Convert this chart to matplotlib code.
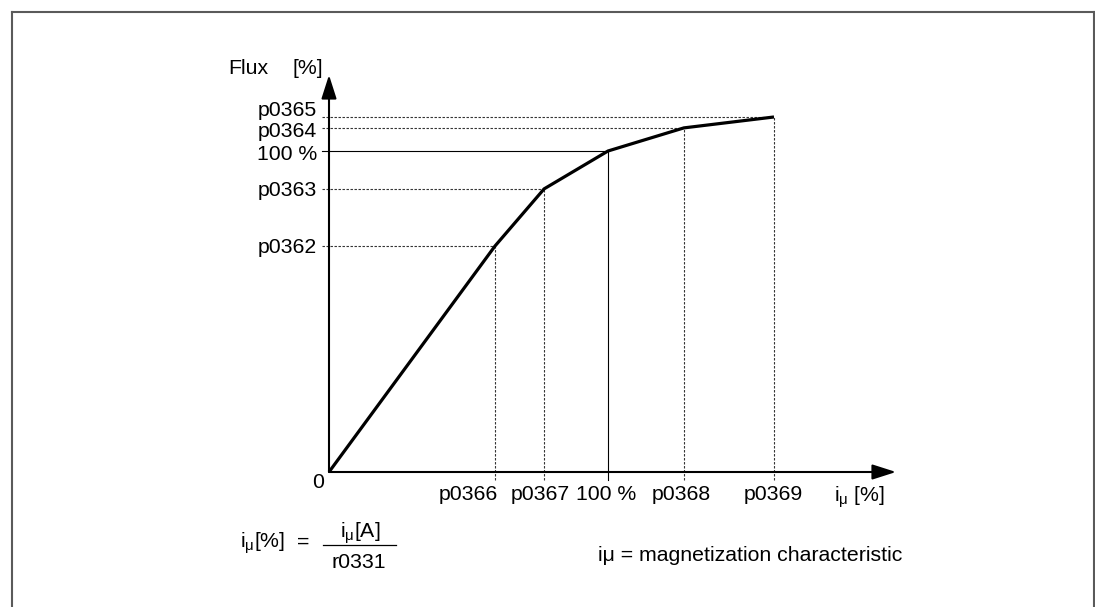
import matplotlib
matplotlib.use("Agg")
import matplotlib.pyplot as plt
from matplotlib.lines import Line2D

plt.rcParams['font.family'] = ['Liberation Sans', 'DejaVu Sans']
plt.rcParams['mathtext.fontset'] = 'custom'
plt.rcParams['mathtext.rm'] = 'Liberation Sans'
plt.rcParams['mathtext.it'] = 'Liberation Sans'
plt.rcParams['mathtext.default'] = 'regular'

# ---- data (percent units) ----
x_labels = ['p0366', 'p0367', '100 %', 'p0368', 'p0369']
x_values = [59.5, 77.1, 100.0, 127.2, 159.5]
y_labels = ['p0362', 'p0363', '100 %', 'p0364', 'p0365']
y_values = [70.4, 88.2, 100.0, 107.2, 110.6]
# label nudges in pixels (layout)
x_label_dx = [-27, -4, -2, -3, -1]
y_label_dy = [1, 0, -2, -2, 8]

curve_x = [0.0] + x_values
curve_y = [0.0] + y_values

# ---- layout calibration (pixels) ----
W, H = 1095, 607
OX, OY = 329, 472
SX, SY = 2.79, 3.21   # pixels per percent

fig = plt.figure(figsize=(W / 100, H / 100), dpi=100)
ax = fig.add_axes([0, 0, 1, 1])
ax.set_xlim(-OX / SX, (W - OX) / SX)
ax.set_ylim(-(H - OY) / SY, OY / SY)
ax.axis('off')

def px2x(p):
    return (p - OX) / SX

def px2y(p):
    return (OY - p) / SY

# frame (gray border: top, left, right)
fc = '#5a5a5a'
fig.add_artist(Line2D([12 / W, 12 / W], [0, 1 - 12 / H], color=fc, lw=1.5, transform=fig.transFigure))
fig.add_artist(Line2D([12 / W, 1094 / W], [1 - 12 / H, 1 - 12 / H], color=fc, lw=1.5, transform=fig.transFigure))
fig.add_artist(Line2D([1094 / W, 1094 / W], [0, 1 - 12 / H], color=fc, lw=1.5, transform=fig.transFigure))

# guide lines
x_left = px2x(322)
y_bottom = px2y(480)
for xv, yv, lab in zip(x_values, y_values, x_labels):
    if lab.startswith('100'):
        ls, col, lw = '-', 'black', 0.8
    else:
        ls, col, lw = (0, (2.2, 1.4)), '#333333', 0.8
    ax.plot([x_left, xv], [yv, yv], ls=ls, color=col, lw=lw, zorder=2)
    ax.plot([xv, xv], [y_bottom, yv], ls=ls, color=col, lw=lw, zorder=2)

# axes with arrows
arrow_kw = dict(arrowstyle='-|>,head_length=1.0,head_width=0.32', color='black',
                lw=1.5, mutation_scale=14.5, shrinkA=0, shrinkB=0)
ax.annotate('', xy=(px2x(896), 0), xytext=(0, 0), arrowprops=arrow_kw, zorder=4)
ax.annotate('', xy=(0, px2y(75)), xytext=(0, 0), arrowprops=arrow_kw, zorder=4)

# characteristic curve
ax.plot(curve_x, curve_y, color='black', lw=2.3, solid_joinstyle='miter',
        solid_capstyle='butt', zorder=5)

fs = 15.3
# y tick labels
for yv, lab, dy in zip(y_values, y_labels, y_label_dy):
    ax.annotate(lab, xy=(px2x(317), yv), xytext=(0, dy * 0.72), textcoords='offset points',
                ha='right', va='center_baseline', fontsize=fs)
# x tick labels
for xv, lab, dx in zip(x_values, x_labels, x_label_dx):
    ax.annotate(lab, xy=(xv, px2y(493)), xytext=(dx * 0.72, 0), textcoords='offset points',
                ha='center', va='center_baseline', fontsize=fs)

# origin label
ax.text(px2x(318), px2y(481), '0', ha='center', va='center_baseline', fontsize=fs)

# axis titles
ax.text(px2x(228), px2y(67), 'Flux', ha='left', va='center_baseline', fontsize=fs)
ax.text(px2x(292), px2y(67), '[%]', ha='left', va='center_baseline', fontsize=fs)
ax.text(px2x(834), px2y(502), r'$i_{\mu}$ [%]', ha='left', va='baseline', fontsize=fs)

# formula
ax.text(px2x(240), px2y(548), r'$i_{\mu}$[%]', ha='left', va='baseline', fontsize=fs)
ax.text(px2x(303), px2y(548), '=', ha='center', va='baseline', fontsize=fs)
ax.text(px2x(360), px2y(538), r'$i_{\mu}$[A]', ha='center', va='baseline', fontsize=fs)
ax.plot([px2x(323), px2x(396)], [px2y(545), px2y(545)], color='black', lw=0.9)
ax.text(px2x(359), px2y(568), 'r0331', ha='center', va='baseline', fontsize=fs)

# note
ax.text(px2x(750), px2y(561), 'iμ = magnetization characteristic', ha='center',
        va='baseline', fontsize=fs)

fig.savefig('out.png', dpi=100)
